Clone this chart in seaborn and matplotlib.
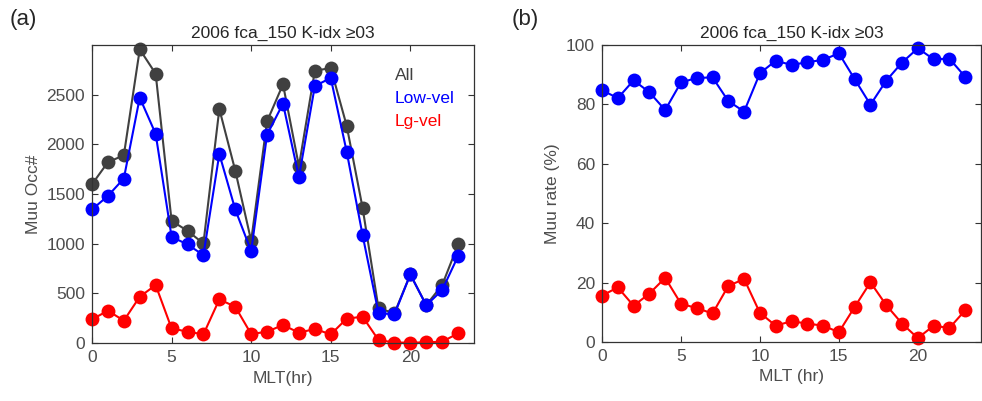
import numpy as np
import pandas as pd
import matplotlib
matplotlib.use("Agg")
import matplotlib.pyplot as plt
import seaborn as sns

# --- Data ---
mlt = list(range(24))

occ_all = [1598, 1820, 1890, 2956, 2711, 1230, 1129, 1002, 2356, 1736, 1029, 2232,
           2604, 1780, 2741, 2768, 2188, 1361, 349, 300, 690, 382, 583, 992]
occ_low = [1344, 1481, 1656, 2470, 2105, 1069, 992, 885, 1903, 1344, 925, 2098,
           2410, 1669, 2587, 2668, 1927, 1086, 302, 288, 690, 379, 533, 875]
occ_lg = [238, 325, 225, 466, 583, 147, 114, 87, 439, 365, 90, 114,
          181, 104, 141, 87, 245, 265, 30, 5, 3, 7, 13, 97]

rate_low = [84.8, 82.1, 88.1, 84.1, 78.1, 87.4, 88.9, 89.1, 81.1, 77.6, 90.5, 94.7,
            93.3, 94.2, 95.0, 97.2, 88.5, 79.9, 88.0, 94.1, 98.9, 95.2, 95.4, 89.3]
rate_lg = [15.6, 18.4, 12.2, 16.3, 21.6, 12.9, 11.4, 9.6, 18.9, 21.2, 9.8, 5.5,
           7.0, 6.2, 5.5, 3.3, 11.8, 20.1, 12.4, 6.2, 1.3, 5.5, 4.7, 10.7]

title_txt = "2006 fca_150 K-idx \u226503"

# --- Style ---
sns.set_style("white")
plt.rcParams['font.family'] = ['Liberation Sans', 'DejaVu Sans']
plt.rcParams['axes.edgecolor'] = '#333333'
plt.rcParams['xtick.color'] = '#333333'
plt.rcParams['ytick.color'] = '#333333'
plt.rcParams['xtick.direction'] = 'in'
plt.rcParams['ytick.direction'] = 'in'

TXT = '#4d4d4d'
GREY = '#404040'
BLUE = '#0000ff'
RED = '#ff0000'

df_occ = pd.DataFrame({'MLT': mlt, 'All': occ_all, 'Low-vel': occ_low, 'Lg-vel': occ_lg})
df_rate = pd.DataFrame({'MLT': mlt, 'Low-vel': rate_low, 'Lg-vel': rate_lg})

fig = plt.figure(figsize=(9.82, 4.01), dpi=100)
ax1 = fig.add_axes([92 / 982, 58 / 401, 382 / 982, 298 / 401])
ax2 = fig.add_axes([602 / 982, 59 / 401, 379 / 982, 297 / 401])

line_kw = dict(marker='o', markersize=10, linewidth=1.5, markeredgewidth=0)

# panel (a)
sns.lineplot(data=df_occ, x='MLT', y='All', color=GREY, ax=ax1, **line_kw)
sns.lineplot(data=df_occ, x='MLT', y='Low-vel', color=BLUE, ax=ax1, **line_kw)
sns.lineplot(data=df_occ, x='MLT', y='Lg-vel', color=RED, ax=ax1, **line_kw)
ax1.set_xlim(0, 24)
ax1.set_ylim(0, 3000)
ax1.set_xticks([0, 5, 10, 15, 20])
ax1.set_yticks([0, 500, 1000, 1500, 2000, 2500])
ax1.set_xlabel('MLT(hr)', fontsize=12.5, color=TXT)
ax1.set_ylabel('Muu Occ#', fontsize=12.5, color=TXT)
ax1.set_title(title_txt, fontsize=12.5, pad=5)
ax1.text(0.793, 0.896, 'All', color=GREY, fontsize=12.5, transform=ax1.transAxes, va='center')
ax1.text(0.793, 0.819, 'Low-vel', color=BLUE, fontsize=12.5, transform=ax1.transAxes, va='center')
ax1.text(0.793, 0.742, 'Lg-vel', color=RED, fontsize=12.5, transform=ax1.transAxes, va='center')

# panel (b)
sns.lineplot(data=df_rate, x='MLT', y='Low-vel', color=BLUE, ax=ax2, **line_kw)
sns.lineplot(data=df_rate, x='MLT', y='Lg-vel', color=RED, ax=ax2, **line_kw)
ax2.set_xlim(0, 24)
ax2.set_ylim(0, 100)
ax2.set_xticks([0, 5, 10, 15, 20])
ax2.set_yticks([0, 20, 40, 60, 80, 100])
ax2.set_xlabel('MLT (hr)', fontsize=12.5, color=TXT)
ax2.set_ylabel('Muu rate (%)', fontsize=12.5, color=TXT)
ax2.set_title(title_txt, fontsize=12.5, pad=5)

for ax in (ax1, ax2):
    ax.tick_params(labelsize=12.5, labelcolor=TXT, length=4, width=0.8, top=True, right=True,
                   bottom=True, left=True, pad=5)
    for sp in ax.spines.values():
        sp.set_linewidth(0.9)
        sp.set_visible(True)
    for line in ax.lines:
        line.set_clip_on(False)

fig.text(10 / 982, 1 - 20 / 401, '(a)', fontsize=16, va='center', color='#262626')
fig.text(512 / 982, 1 - 20 / 401, '(b)', fontsize=16, va='center', color='#262626')

fig.savefig('out.png', dpi=100)
